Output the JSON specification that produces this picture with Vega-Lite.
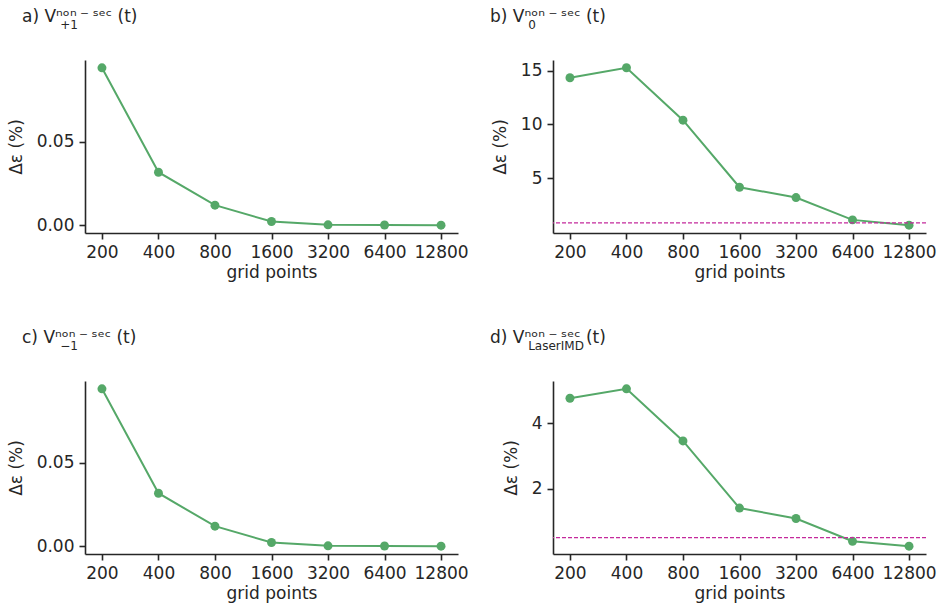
{
  "$schema": "https://vega.github.io/schema/vega-lite/v6.json",
  "background": "white",
  "padding": {"left": 7, "top": 8, "right": 5, "bottom": 5},
  "datasets": {
    "pts": [
      {"panel": "a", "grid": 200, "value": 0.0945},
      {"panel": "a", "grid": 400, "value": 0.0318},
      {"panel": "a", "grid": 800, "value": 0.0120},
      {"panel": "a", "grid": 1600, "value": 0.0022},
      {"panel": "a", "grid": 3200, "value": 0.0002},
      {"panel": "a", "grid": 6400, "value": 0.0001},
      {"panel": "a", "grid": 12800, "value": 0.0000},
      {"panel": "b", "grid": 200, "value": 14.35},
      {"panel": "b", "grid": 400, "value": 15.28},
      {"panel": "b", "grid": 800, "value": 10.4},
      {"panel": "b", "grid": 1600, "value": 4.16},
      {"panel": "b", "grid": 3200, "value": 3.2},
      {"panel": "b", "grid": 6400, "value": 1.12},
      {"panel": "b", "grid": 12800, "value": 0.63},
      {"panel": "c", "grid": 200, "value": 0.0945},
      {"panel": "c", "grid": 400, "value": 0.0318},
      {"panel": "c", "grid": 800, "value": 0.0120},
      {"panel": "c", "grid": 1600, "value": 0.0022},
      {"panel": "c", "grid": 3200, "value": 0.0002},
      {"panel": "c", "grid": 6400, "value": 0.0001},
      {"panel": "c", "grid": 12800, "value": 0.0000},
      {"panel": "d", "grid": 200, "value": 4.77},
      {"panel": "d", "grid": 400, "value": 5.06},
      {"panel": "d", "grid": 800, "value": 3.46},
      {"panel": "d", "grid": 1600, "value": 1.40},
      {"panel": "d", "grid": 3200, "value": 1.08},
      {"panel": "d", "grid": 6400, "value": 0.38},
      {"panel": "d", "grid": 12800, "value": 0.23}
    ],
    "thr": [
      {"panel": "b", "value": 0.85},
      {"panel": "d", "value": 0.49}
    ]
  },
  "columns": 2,
  "spacing": {"column": 21, "row": 49},
  "concat": [
    {
      "title": {"text": "a) Vⁿᵒⁿ\u2009⁻\u2009ˢᵉᶜ\u00a0(t)", "subtitle": "\u200b\u00a0\u00a0\u00a0\u00a0\u00a0\u00a0\u00a0\u00a0\u00a0\u00a0+1"},
      "width": 373, "height": 173,
      "data": {"name": "pts"},
      "transform": [{"filter": "datum.panel == 'a'"}],
      "mark": {"type": "line", "color": "#55a868", "strokeWidth": 2, "point": {"filled": true, "size": 80, "opacity": 1, "color": "#55a868"}},
      "encoding": {
        "x": {"field": "grid", "type": "ordinal", "scale": {"type": "point", "padding": 0.3}, "axis": {"title": "grid points"}},
        "y": {"field": "value", "type": "quantitative", "scale": {"domain": [-0.0047, 0.0992], "nice": false, "zero": false}, "axis": {"title": "Δε (%)", "values": [0, 0.05], "format": ".2f"}}
      }
    },
    {
      "title": {"text": "b) Vⁿᵒⁿ\u2009⁻\u2009ˢᵉᶜ\u00a0(t)", "subtitle": "\u200b\u00a0\u00a0\u00a0\u00a0\u00a0\u00a0\u00a0\u00a0\u00a0\u00a00"},
      "width": 373, "height": 173,
      "layer": [
        {
          "data": {"name": "pts"},
          "transform": [{"filter": "datum.panel == 'b'"}],
          "mark": {"type": "line", "color": "#55a868", "strokeWidth": 2, "point": {"filled": true, "size": 80, "opacity": 1, "color": "#55a868"}},
          "encoding": {
            "x": {"field": "grid", "type": "ordinal", "scale": {"type": "point", "padding": 0.3}, "axis": {"title": "grid points"}},
            "y": {"field": "value", "type": "quantitative", "scale": {"domain": [-0.1, 16.0], "nice": false, "zero": false}, "axis": {"title": "Δε (%)", "values": [5, 10, 15]}}
          }
        },
        {
          "data": {"name": "thr"},
          "transform": [{"filter": "datum.panel == 'b'"}],
          "mark": {"type": "rule", "color": "#c42a9c", "strokeWidth": 1.2, "strokeDash": [4, 2]},
          "encoding": {"y": {"field": "value", "type": "quantitative"}}
        }
      ]
    },
    {
      "title": {"text": "c) Vⁿᵒⁿ\u2009⁻\u2009ˢᵉᶜ\u00a0(t)", "subtitle": "\u200b\u00a0\u00a0\u00a0\u00a0\u00a0\u00a0\u00a0\u00a0\u00a0\u00a0−1"},
      "width": 373, "height": 173,
      "data": {"name": "pts"},
      "transform": [{"filter": "datum.panel == 'c'"}],
      "mark": {"type": "line", "color": "#55a868", "strokeWidth": 2, "point": {"filled": true, "size": 80, "opacity": 1, "color": "#55a868"}},
      "encoding": {
        "x": {"field": "grid", "type": "ordinal", "scale": {"type": "point", "padding": 0.3}, "axis": {"title": "grid points"}},
        "y": {"field": "value", "type": "quantitative", "scale": {"domain": [-0.0047, 0.0992], "nice": false, "zero": false}, "axis": {"title": "Δε (%)", "values": [0, 0.05], "format": ".2f"}}
      }
    },
    {
      "title": {"text": "d) Vⁿᵒⁿ\u2009⁻\u2009ˢᵉᶜ\u00a0(t)", "subtitle": "\u200b\u00a0\u00a0\u00a0\u00a0\u00a0\u00a0\u00a0\u00a0\u00a0\u00a0LaserIMD"},
      "width": 373, "height": 173,
      "layer": [
        {
          "data": {"name": "pts"},
          "transform": [{"filter": "datum.panel == 'd'"}],
          "mark": {"type": "line", "color": "#55a868", "strokeWidth": 2, "point": {"filled": true, "size": 80, "opacity": 1, "color": "#55a868"}},
          "encoding": {
            "x": {"field": "grid", "type": "ordinal", "scale": {"type": "point", "padding": 0.3}, "axis": {"title": "grid points"}},
            "y": {"field": "value", "type": "quantitative", "scale": {"domain": [-0.01, 5.3], "nice": false, "zero": false}, "axis": {"title": "Δε (%)", "values": [2, 4]}}
          }
        },
        {
          "data": {"name": "thr"},
          "transform": [{"filter": "datum.panel == 'd'"}],
          "mark": {"type": "rule", "color": "#c42a9c", "strokeWidth": 1.2, "strokeDash": [4, 2]},
          "encoding": {"y": {"field": "value", "type": "quantitative"}}
        }
      ]
    }
  ],
  "config": {
    "font": "DejaVu Sans",
    "view": {"stroke": null},
    "axis": {
      "grid": false,
      "domainColor": "#262626", "domainWidth": 1.6,
      "tickColor": "#262626", "tickWidth": 1.6, "tickSize": 6,
      "labelFont": "DejaVu Sans", "labelFontSize": 17, "labelColor": "#262626", "labelPadding": 5,
      "titleFont": "DejaVu Sans", "titleFontSize": 17, "titleColor": "#262626", "titleFontWeight": "normal"
    },
    "axisX": {"labelAngle": 0, "titlePadding": 4},
    "axisY": {"titlePadding": 11},
    "title": {
      "font": "DejaVu Sans", "fontSize": 17, "fontWeight": "normal", "color": "#262626",
      "anchor": "start", "frame": "group", "dx": -63, "offset": 28,
      "subtitleFont": "DejaVu Sans", "subtitleFontSize": 12, "subtitleColor": "#262626", "subtitlePadding": -6
    }
  }
}
